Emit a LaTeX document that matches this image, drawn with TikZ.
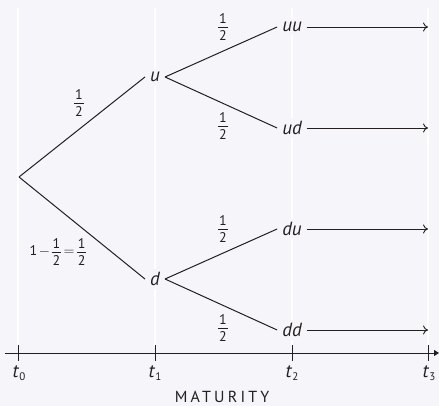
\documentclass[tikz,border=0pt]{standalone}
\usepackage{fontspec}
\setmainfont{PT Sans}
\usetikzlibrary{arrows.meta}
\definecolor{bg}{HTML}{F5F5FA}
\definecolor{ink}{HTML}{231F20}
\newcommand{\hf}{\ensuremath{\vcenter{\hbox{\vbox{\offinterlineskip\halign{\hfil##\hfil\cr 1\cr\noalign{\kern3.5pt}\rule{9.5pt}{0.9pt}\cr\noalign{\kern3.5pt}2\cr}}}}}}
\newcommand{\tl}[1]{\textit{t}\raisebox{-0.35ex}{\fontsize{11}{11}\selectfont #1}}
\tikzset{
  st/.style={font=\fontsize{19}{19}\selectfont\itshape, inner xsep=5pt, inner ysep=3pt, fill=bg, text=ink},
  fr/.style={font=\fontsize{14}{14}\selectfont, inner sep=0pt, text=ink},
  br/.style={draw=ink, line width=1pt},
  pay/.style={draw=ink, line width=0.9pt, -{To[length=5pt,width=9pt]}},
  grid/.style={draw=white, line width=1.2pt},
  tick/.style={draw=ink, line width=1pt},
  tlab/.style={font=\fontsize{19}{19}\selectfont, inner sep=1pt, text=ink}
}
\begin{document}
\begin{tikzpicture}[x=1pt,y=-1pt]
\fill[bg] (0,0) rectangle (439,406);
\useasboundingbox (0,0) rectangle (439,406);
% faint gridlines
\foreach \x in {18,155,292,428} \draw[grid] (\x,8) -- (\x,346);
% nodes
\coordinate (root) at (19,177);
\node[st] (u) at (155,77) {u};
\node[st] (d) at (155,279) {d};
\node[st] (uu) at (292,27) {uu};
\node[st] (ud) at (292,128) {ud};
\node[st] (du) at (292,229) {du};
\node[st] (dd) at (292,330) {dd};
\foreach \n/\y in {uu/27,ud/128,du/229,dd/330} \coordinate (e\n) at (428,\y);
% branches
\draw[br] (root) -- (u.west);
\draw[br] (root) -- (d.west);
\draw[br] (u.east) -- (uu.west);
\draw[br] (u.east) -- (ud.west);
\draw[br] (d.east) -- (du.west);
\draw[br] (d.east) -- (dd.west);
\foreach \n in {uu,ud,du,dd} \draw[pay] (\n.east) -- (e\n);
% probabilities
\node[fr] (p0) at (79,103) {\hf};
\node[fr] (p1) at (58,252) {$\mbox{1}\mkern-2mu-\mkern-2mu\hf\mkern-2mu=\mkern-2mu\hf$};
\node[fr] (p2) at (223,27) {\hf};
\node[fr] (p3) at (223,126) {\hf};
\node[fr] (p4) at (223,229) {\hf};
\node[fr] (p5) at (223,328) {\hf};
% axis
\coordinate (axl) at (5,353);
\coordinate (axr) at (439,353);
\draw[draw=ink, line width=1pt, -{Triangle[length=5pt,width=6pt]}] (axl) -- (axr);
\foreach \x in {18,155,292,428} \draw[tick] (\x,345) -- (\x,361);
\node[tlab] (t0) at (19,373) {\tl{0}};
\node[tlab] (t1) at (155,373) {\tl{1}};
\node[tlab] (t2) at (292,373) {\tl{2}};
\node[tlab] (t3) at (429,373) {\tl{3}};
\node[font=\fontsize{16}{16}\selectfont\addfontfeatures{LetterSpace=20}, text=ink, inner sep=0pt, anchor=base] (mat) at (222,402) {MATURITY};
\end{tikzpicture}
\end{document}
